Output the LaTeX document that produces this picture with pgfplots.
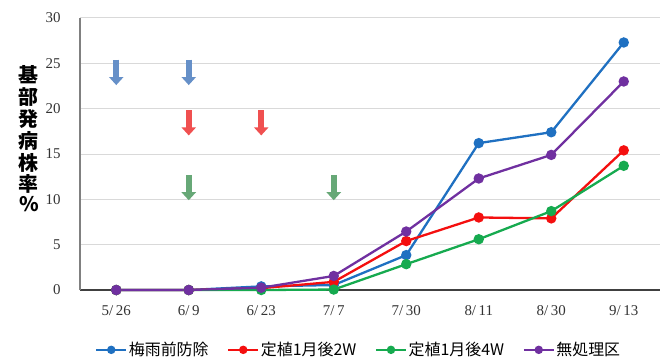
\documentclass[border=0pt]{standalone}
\usepackage{pgfplots}
\pgfplotsset{compat=1.18}
\usetikzlibrary{arrows.meta}
\usepackage{fontspec}
\setmainfont{Liberation Serif}
\newfontfamily\jp{Noto Sans CJK JP}
\definecolor{cblue}{HTML}{1F70C1}
\definecolor{cred}{HTML}{F40F0F}
\definecolor{cgreen}{HTML}{16AA4F}
\definecolor{cpurple}{HTML}{7030A0}
\definecolor{ablue}{HTML}{6690C8}
\definecolor{ared}{HTML}{F05050}
\definecolor{agreen}{HTML}{67A877}
\begin{document}
\begin{tikzpicture}
\begin{axis}[
  scale only axis,
  width=580bp, height=272bp,
  xmin=-0.5, xmax=7.5, ymin=0, ymax=30,
  xtick={0,...,7},
  xticklabels={5/\,26,6/\,9,6/\,23,7/\,7,7/\,30,8/\,11,8/\,30,9/\,13},
  ytick={0,5,...,30},
  axis x line*=bottom, axis y line*=left,
  x axis line style={-, draw=black!75, line width=1.5bp},
  y axis line style={-, draw=black!50, line width=1.5bp},
  major tick length=0pt,
  ymajorgrids, grid style={black!15, line width=1bp},
  tick label style={font=\fontsize{15}{17}\selectfont, text=black!80},
  /pgf/number format/assume math mode=true,
  xticklabel style={yshift=-12bp},
  yticklabel style={xshift=-16bp},
  ylabel={\jp\bfseries\fontsize{20}{21}\selectfont\shortstack{基\\部\\発\\病\\株\\率\\\%}},
  ylabel style={rotate=-90, at={(axis description cs:-0.088,0.555)}, anchor=center},
  legend style={at={(0.48,-0.22)}, anchor=center, draw=none, legend columns=4,
    font=\jp\fontsize{16}{18}\selectfont, column sep=0pt,
    nodes={inner xsep=1.5bp},
    /tikz/every even column/.append style={column sep=17bp}},
  legend cell align=left,
  legend image code/.code={\draw[mark repeat=2, mark phase=2, mark size=3bp]
     plot coordinates {(0bp,0bp) (15bp,0bp) (30bp,0bp)};},
  every axis plot/.append style={line width=2.3bp, mark=*, mark size=4bp},
  clip=false,
]
\path (rel axis cs:0,0) ++(-80bp,-73bp);
\path (rel axis cs:1,1) ++(3bp,18bp);
\addplot[ablue, line width=6bp, mark=none, forget plot,
  quiver={u=0, v=-2.8, every arrow/.append style={-{Triangle[width=14bp,length=8bp]}}}]
  coordinates {(0,25.4) (1,25.4)};
\addplot[ared, line width=6bp, mark=none, forget plot,
  quiver={u=0, v=-2.8, every arrow/.append style={-{Triangle[width=14bp,length=8bp]}}}]
  coordinates {(1,19.85) (2,19.85)};
\addplot[agreen, line width=6bp, mark=none, forget plot,
  quiver={u=0, v=-2.8, every arrow/.append style={-{Triangle[width=14bp,length=8bp]}}}]
  coordinates {(1,12.7) (3,12.7)};
\addplot[cblue] coordinates {(0,0) (1,0) (2,0.4) (3,0.55) (4,3.85) (5,16.2) (6,17.4) (7,27.3)};
\addlegendentry{梅雨前防除}
\addplot[cred] coordinates {(0,0) (1,0) (2,0.2) (3,0.9) (4,5.4) (5,8.0) (6,7.9) (7,15.4)};
\addlegendentry{定植1月後2W}
\addplot[cgreen] coordinates {(0,0) (1,0) (2,0) (3,0.05) (4,2.85) (5,5.6) (6,8.7) (7,13.7)};
\addlegendentry{定植1月後4W}
\addplot[cpurple] coordinates {(0,0) (1,0) (2,0.25) (3,1.55) (4,6.45) (5,12.3) (6,14.9) (7,23.0)};
\addlegendentry{無処理区}
\end{axis}
\end{tikzpicture}
\end{document}
